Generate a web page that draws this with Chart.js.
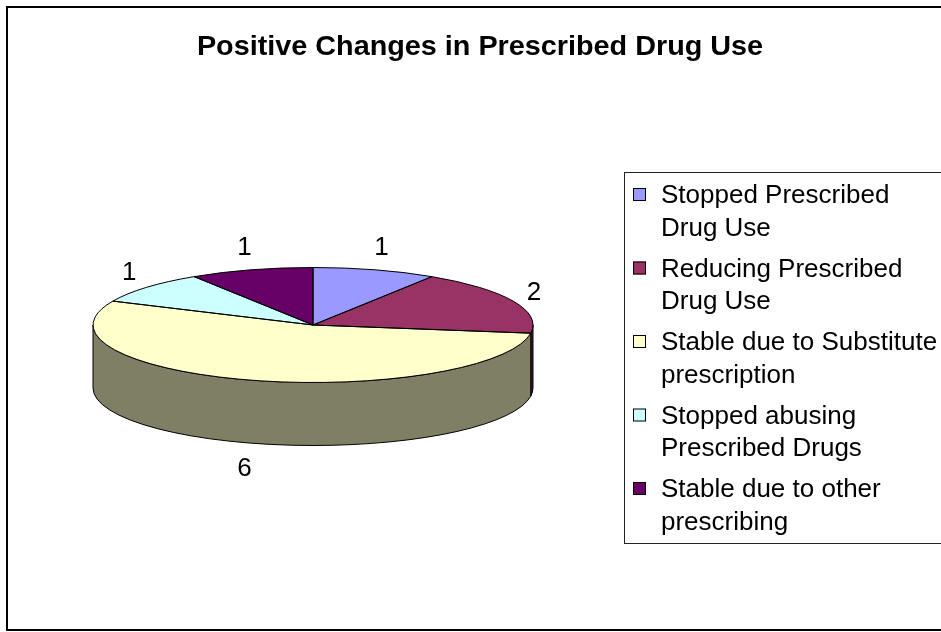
<!DOCTYPE html>
<html><head><meta charset="utf-8">
<script src="https://cdn.jsdelivr.net/npm/chart.js@4.4.1/dist/chart.umd.min.js"></script>
<style>html,body{margin:0;padding:0;background:#fff;overflow:hidden}canvas{display:block}</style>
</head><body>
<canvas id="c" width="941" height="632"></canvas>
<script>
const chartTitle = 'Positive Changes in Prescribed Drug Use';
const categories = ['Stopped Prescribed Drug Use', 'Reducing Prescribed Drug Use', 'Stable due to Substitute prescription', 'Stopped abusing Prescribed Drugs', 'Stable due to other prescribing'];
const values = [1, 2, 6, 1, 1];
const colors = ['#9999FF', '#993366', '#FFFFCC', '#CCFFFF', '#660066'];

const RADIUS = 220, SQUASH = 57.5 / 220, DEPTH = 63;
const FONT = '"Liberation Sans", Arial, sans-serif';

function darker(hex) {
  const n = parseInt(hex.slice(1), 16);
  return 'rgb(' + (((n >> 16) & 255) >> 1) + ',' + (((n >> 8) & 255) >> 1) + ',' + ((n & 255) >> 1) + ')';
}

function wrap(ctx, text, maxW) {
  const words = text.split(' ');
  const lines = [];
  let cur = '';
  for (const w of words) {
    const t = cur ? cur + ' ' + w : w;
    if (cur && ctx.measureText(t).width > maxW) { lines.push(cur); cur = w; }
    else cur = t;
  }
  if (cur) lines.push(cur);
  return lines;
}

const pie3d = {
  id: 'pie3d',
  beforeDraw(chart) {
    const ctx = chart.ctx;
    ctx.save();
    ctx.fillStyle = '#fff';
    ctx.fillRect(0, 0, chart.width, chart.height);
    ctx.strokeStyle = '#000';
    ctx.lineWidth = 2;
    ctx.strokeRect(7, 7, 1000, 623);
    ctx.restore();
  },
  beforeDatasetsDraw(chart) {
    const ctx = chart.ctx;
    const meta = chart.getDatasetMeta(0);
    const a0 = meta.data[0];
    const cx = a0.x, cy = a0.y, rx = a0.outerRadius, ry = rx * SQUASH;
    ctx.save();
    meta.data.forEach((arc, i) => {
      for (const off of [-2 * Math.PI, 0, 2 * Math.PI]) {
        const s = Math.max(arc.startAngle, off), e = Math.min(arc.endAngle, off + Math.PI);
        if (e <= s) continue;
        ctx.beginPath();
        ctx.ellipse(cx, cy, rx, ry, 0, s, e, false);
        ctx.ellipse(cx, cy + DEPTH, rx, ry, 0, e, s, true);
        ctx.closePath();
        ctx.fillStyle = darker(chart.data.datasets[0].backgroundColor[i]);
        ctx.fill();
        ctx.strokeStyle = '#000';
        ctx.lineWidth = 1;
        ctx.stroke();
      }
    });
    ctx.restore();
    ctx.save();
    ctx.translate(cx, cy);
    ctx.scale(1, SQUASH);
    ctx.translate(-cx, -cy);
  },
  afterDatasetsDraw(chart) {
    const ctx = chart.ctx;
    ctx.restore();
    const meta = chart.getDatasetMeta(0);
    const a0 = meta.data[0];
    const cx = a0.x, cy = a0.y, rx = a0.outerRadius, ry = rx * SQUASH;
    ctx.save();
    ctx.strokeStyle = '#000';
    ctx.lineWidth = 1;
    meta.data.forEach((arc) => {
      ctx.beginPath();
      ctx.moveTo(cx, cy);
      ctx.ellipse(cx, cy, rx, ry, 0, arc.startAngle, arc.endAngle, false);
      ctx.closePath();
      ctx.stroke();
    });
    // data labels
    ctx.fillStyle = '#000';
    ctx.font = '26px ' + FONT;
    ctx.textAlign = 'center';
    ctx.textBaseline = 'middle';
    const data = chart.data.datasets[0].data;
    meta.data.forEach((arc, i) => {
      const mid = (arc.startAngle + arc.endAngle) / 2;
      const c = Math.cos(mid), s = Math.sin(mid);
      const x = cx + rx * c + 23 * c;
      let y = cy + ry * s + 25 * s + 2;
      if (s > 0) y += DEPTH;
      ctx.fillText(String(data[i]), x, y);
    });
    ctx.restore();
  },
  afterDraw(chart) {
    const ctx = chart.ctx;
    ctx.save();
    // title
    ctx.fillStyle = '#000';
    ctx.font = 'bold 27px ' + FONT;
    ctx.textAlign = 'center';
    ctx.textBaseline = 'alphabetic';
    ctx.translate(480, 55);
    ctx.scale(1.066, 1);
    ctx.fillText(chartTitle, 0, 0);
    ctx.restore();
    // legend
    ctx.save();
    ctx.strokeStyle = '#222';
    ctx.lineWidth = 1;
    ctx.strokeRect(624.5, 172.5, 400, 371);
    ctx.font = '26px ' + FONT;
    ctx.textAlign = 'left';
    ctx.textBaseline = 'alphabetic';
    const labels = chart.data.labels;
    const bg = chart.data.datasets[0].backgroundColor;
    labels.forEach((lab, i) => {
      const base = 203 + i * 73.5;
      ctx.fillStyle = bg[i];
      ctx.fillRect(633, base - 15, 13, 13);
      ctx.strokeStyle = '#000';
      ctx.strokeRect(633.5, base - 14.5, 12, 12);
      ctx.fillStyle = '#000';
      const lines = wrap(ctx, lab, 282);
      lines.forEach((ln, j) => ctx.fillText(ln, 661, base + j * 32.5));
    });
    ctx.restore();
  }
};

new Chart(document.getElementById('c'), {
  type: 'pie',
  data: {
    labels: categories,
    datasets: [{ data: values, backgroundColor: colors, borderWidth: 0, clip: false, radius: RADIUS }]
  },
  options: {
    responsive: false,
    animation: false,
    devicePixelRatio: 1,
    events: [],
    layout: { padding: { left: 93, top: 105, right: 408, bottom: 87 } },
    plugins: { legend: { display: false }, title: { display: false }, tooltip: { enabled: false } }
  },
  plugins: [pie3d]
});
</script>
</body></html>
